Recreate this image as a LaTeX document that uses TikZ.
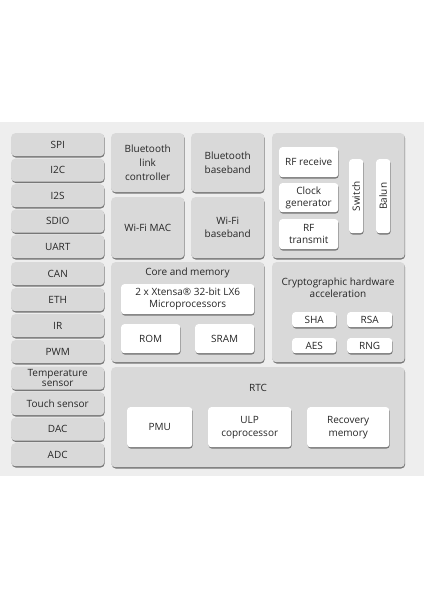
\documentclass[tikz,border=0pt]{standalone}
\usepackage{fontspec}
\setmainfont{Open Sans}
\usetikzlibrary{shadows}
\definecolor{bgc}{HTML}{EEEEEE}
\definecolor{boxg}{HTML}{D9D9D9}
\definecolor{shdc}{HTML}{777777}
\definecolor{txtc}{HTML}{262626}
\begin{document}
\begin{tikzpicture}[x=1pt,y=-1pt,
  shd/.style={drop shadow={shadow xshift=0.5pt,shadow yshift=-1.3pt,fill=shdc,opacity=1}},
  gbox/.style={shd,fill=boxg,rounded corners=4pt,anchor=north west,inner sep=0pt,align=center,text=txtc,font=\fontsize{10}{13}\selectfont},
  wbox/.style={gbox,fill=white,rounded corners=3pt,font=\fontsize{10}{12}\selectfont},
  lbl/.style={text=txtc,align=center,inner sep=0pt,font=\fontsize{10}{12}\selectfont}
]
\useasboundingbox (0,0) rectangle (424,600);
\fill[white] (0,0) rectangle (424,600);
\fill[bgc] (0,122) rectangle (424,476);

% left column
\node[gbox,minimum width=93,minimum height=23] (spi) at (11,133) {SPI};
\node[gbox,minimum width=93,minimum height=23] (i2c) at (11,158.5) {I2C};
\node[gbox,minimum width=93,minimum height=23] (i2s) at (11,184) {I2S};
\node[gbox,minimum width=93,minimum height=23] (sdio) at (11,209.5) {SDIO};
\node[gbox,minimum width=93,minimum height=23] (uart) at (11,235) {UART};
\node[gbox,minimum width=93,minimum height=23] (can) at (11,262) {CAN};
\node[gbox,minimum width=93,minimum height=23] (eth) at (11,288) {ETH};
\node[gbox,minimum width=93,minimum height=23] (ir) at (11,314) {IR};
\node[gbox,minimum width=93,minimum height=23] (pwm) at (11,340) {PWM};
\node[gbox,minimum width=93,minimum height=23,font=\fontsize{10}{10}\selectfont] (temp) at (11,366.5) {Temperature\\sensor};
\node[gbox,minimum width=93,minimum height=23] (touch) at (11,392) {Touch sensor};
\node[gbox,minimum width=93,minimum height=23] (dac) at (11,417.5) {DAC};
\node[gbox,minimum width=93,minimum height=23] (adc) at (11,443) {ADC};

% radio section
\node[gbox,minimum width=73,minimum height=59,font=\fontsize{10}{14}\selectfont] (btlc) at (111,133) {Bluetooth\\link\\controller};
\node[gbox,minimum width=73,minimum height=61] (wmac) at (111,197) {Wi-Fi MAC};
\node[gbox,minimum width=73,minimum height=59,font=\fontsize{10}{14}\selectfont] (btbb) at (191,133) {Bluetooth\\baseband};
\node[gbox,minimum width=73,minimum height=61] (wbb) at (191,197) {Wi-Fi\\baseband};
\node[gbox,minimum width=132.5,minimum height=125] (rf) at (272,133) {};
\node[wbox,minimum width=59,minimum height=30] (rfrx) at (279,147) {RF receive};
\node[wbox,minimum width=59,minimum height=29] (clk) at (279,183) {Clock\\generator};
\node[wbox,minimum width=59,minimum height=30] (rftx) at (279,219) {RF\\transmit};
\node[wbox,minimum width=14,minimum height=74] (sw) at (349,159) {\rotatebox{90}{Switch}};
\node[wbox,minimum width=14,minimum height=74] (balun) at (376,159) {\rotatebox{90}{Balun}};

% core and memory
\node[gbox,minimum width=153,minimum height=100] (core) at (111,262) {};
\node[lbl] (coret) at (187.5,273) {Core and memory};
\node[wbox,minimum width=133,minimum height=30] (cpu) at (121,284) {2 x Xtensa® 32-bit LX6\\Microprocessors};
\node[wbox,minimum width=59,minimum height=29] (rom) at (121,324) {ROM};
\node[wbox,minimum width=59,minimum height=29] (sram) at (195,324) {SRAM};

% crypto
\node[gbox,minimum width=132.5,minimum height=100] (crypto) at (272,262) {};
\node[lbl] (cryptot) at (338,288) {Cryptographic hardware\\acceleration};
\node[wbox,minimum width=44,minimum height=15] (sha) at (292,312) {SHA};
\node[wbox,minimum width=45,minimum height=15] (rsa) at (347,312) {RSA};
\node[wbox,minimum width=44,minimum height=15] (aes) at (292,338) {AES};
\node[wbox,minimum width=45,minimum height=15] (rng) at (347,338) {RNG};

% RTC
\node[gbox,minimum width=293.5,minimum height=100] (rtc) at (111,367) {};
\node[lbl] (rtct) at (258,388) {RTC};
\node[wbox,minimum width=65,minimum height=40] (pmu) at (127,407) {PMU};
\node[wbox,minimum width=83,minimum height=40,font=\fontsize{10}{13}\selectfont] (ulp) at (208,407) {ULP\\coprocessor};
\node[wbox,minimum width=82,minimum height=40,font=\fontsize{10}{13}\selectfont] (rec) at (307,407) {Recovery\\memory};
\end{tikzpicture}
\end{document}
